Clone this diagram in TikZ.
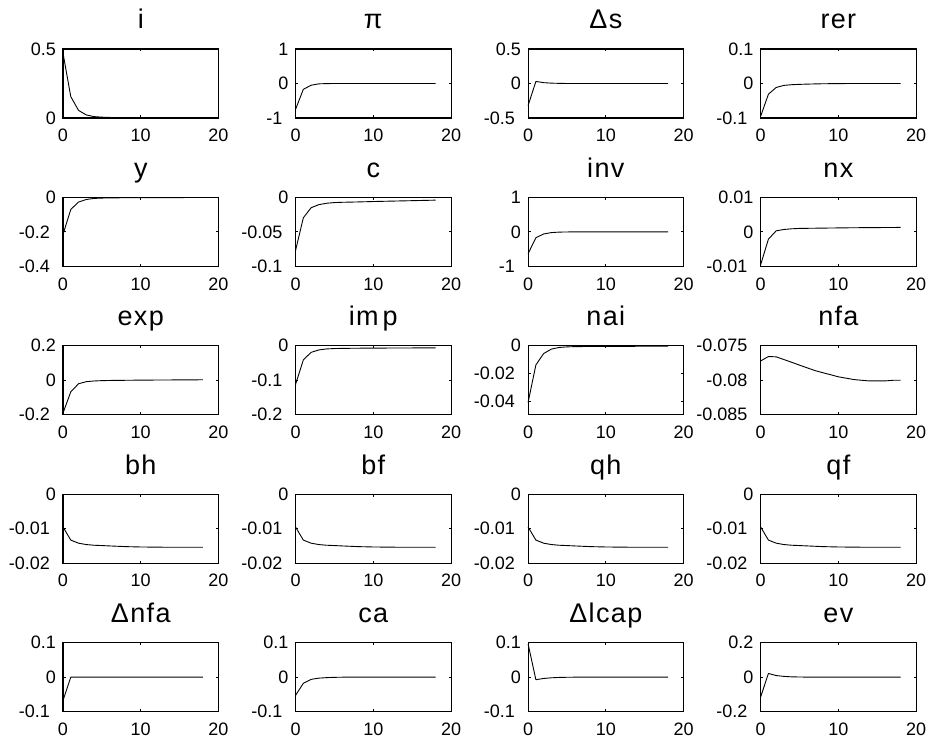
\documentclass[tikz,border=0pt]{standalone}
\usepackage{fontspec}
\setmainfont{Liberation Sans}
\newfontfamily\titlefam[LetterSpace=5]{Liberation Sans}
\newcommand\ticklabfont{\fontsize{18}{20}\selectfont}
\newcommand\paneltitlefont{\titlefam\fontsize{27}{30}\selectfont}
\tikzset{
  axbox/.style={draw=black, line width=1.1pt},
  curve/.style={draw=black, line width=0.9pt, line join=round},
  tickline/.style={line width=0.8pt},
  ticklab/.style={font=\ticklabfont, inner sep=0pt},
  paneltitle/.style={font=\paneltitlefont, inner sep=0pt, anchor=base},
}
% #1 col, #2 row, #3 name, #4 title, #5 ymin, #6 ymax, #7 yticks, #8 data
\newcommand\irfpanel[8]{%
  \pgfmathsetmacro\pxo{63+232.55*#1}%
  \pgfmathsetmacro\pyo{747-49-148.4*#2-69}%
  \pgfmathsetmacro\pyu{69/((#6)-(#5))}%
  \pgfmathsetmacro\pysh{-(#5)*\pyu}%
  \begin{scope}[shift={(\pxo pt,\pyo pt)}]
    \node[paneltitle] (#3-title) at (77.75pt,89pt) {#4};
    \begin{scope}[x=7.775pt, y=\pyu pt, yshift=\pysh pt]
      \draw[curve] plot coordinates {#8};
      \draw[tickline] (10,#5) -- ++(0,2.5pt);
      \draw[tickline] (10,#6) -- ++(0,-2.5pt);
      \foreach \t [count=\k] in {0,10,20}
        \node[ticklab, anchor=base] (#3-x\k) at ([yshift=-23.7pt]\t,#5) {\t};
      \foreach \v [count=\k] in {#7}{
        \draw[tickline] (0,\v) -- ++(2.5pt,0);
        \draw[tickline] (20,\v) -- ++(-2.5pt,0);
        \ifdim\v pt<0pt \def\labgap{13pt}\else\def\labgap{7pt}\fi
        \node[ticklab, anchor=east] (#3-y\k) at ([xshift=-\labgap]0,\v) {\v};
      }
      \draw[axbox] (0,#5) rectangle (20,#6);
    \end{scope}
  \end{scope}
}
\begin{document}
\begin{tikzpicture}[x=1pt,y=1pt]
\useasboundingbox (0,0) rectangle (930,747);
% row 1
\irfpanel{0}{0}{i}{i}{0}{0.5}{0,0.5}{(0,0.47)(1,0.155)(2,0.055)(3,0.022)(4,0.01)(5,0.006)(6,0.004)(7,0.003)(8,0.0025)(9,0.002)(10,0.002)(12,0.0015)(14,0.001)(16,0.0008)(18,0.0005)}
\irfpanel{1}{0}{pi}{π}{-1}{1}{-1,0,1}{(0,-0.75)(1,-0.17)(2,-0.05)(3,-0.01)(4,-0.003)(5,0)(18,0)}
\irfpanel{2}{0}{ds}{Δs}{-0.5}{0.5}{-0.5,0,0.5}{(0,-0.32)(1,0.03)(2,0.012)(3,0.005)(4,0.002)(5,0)(18,0)}
\irfpanel{3}{0}{rer}{rer}{-0.1}{0.1}{-0.1,0,0.1}{(0,-0.095)(1,-0.031)(2,-0.0115)(3,-0.0055)(4,-0.0035)(5,-0.0025)(6,-0.0018)(7,-0.0012)(8,-0.0008)(9,-0.0005)(10,-0.0003)(12,0)(18,0)}
% row 2
\irfpanel{0}{1}{y}{y}{-0.4}{0}{-0.4,-0.2,0}{(0,-0.215)(1,-0.07)(2,-0.027)(3,-0.012)(4,-0.006)(5,-0.004)(6,-0.003)(8,-0.002)(10,-0.0015)(14,-0.001)(18,-0.0008)}
\irfpanel{1}{1}{c}{c}{-0.1}{0}{-0.1,-0.05,0}{(0,-0.077)(1,-0.0296)(2,-0.015)(3,-0.0105)(4,-0.0085)(5,-0.0075)(6,-0.0071)(8,-0.0066)(10,-0.006)(12,-0.0055)(14,-0.005)(16,-0.0045)(18,-0.004)}
\irfpanel{2}{1}{inv}{inv}{-1}{1}{-1,0,1}{(0,-0.63)(1,-0.17)(2,-0.06)(3,-0.02)(4,-0.006)(5,-0.002)(6,0)(18,0)}
\irfpanel{3}{1}{nx}{nx}{-0.01}{0.01}{-0.01,0,0.01}{(0,-0.0095)(1,-0.0021)(2,0.0003)(3,0.0007)(4,0.0009)(5,0.001)(8,0.0011)(12,0.0012)(18,0.0013)}
% row 3
\irfpanel{0}{2}{exp}{exp}{-0.2}{0.2}{-0.2,0,0.2}{(0,-0.19)(1,-0.067)(2,-0.02)(3,-0.008)(4,-0.004)(5,-0.002)(6,-0.001)(8,0)(10,0.001)(14,0.002)(18,0.003)}
\irfpanel{1}{2}{imp}{im\hspace{4pt}p}{-0.2}{0}{-0.2,-0.1,0}{(0,-0.112)(1,-0.041)(2,-0.019)(3,-0.012)(4,-0.009)(5,-0.008)(6,-0.0075)(8,-0.007)(12,-0.0065)(18,-0.006)}
\irfpanel{2}{2}{nai}{nai}{-0.05}{0}{-0.04,-0.02,0}{(0,-0.041)(1,-0.0139)(2,-0.0056)(3,-0.0024)(4,-0.0012)(5,-0.0008)(6,-0.0006)(8,-0.0005)(12,-0.0004)(18,-0.0003)}
\irfpanel{3}{2}{nfa}{nfa}{-0.085}{-0.075}{-0.085,-0.08,-0.075}{(0,-0.0772)(1,-0.07655)(2,-0.0766)(3,-0.0770)(4,-0.0774)(5,-0.0778)(6,-0.0782)(7,-0.0786)(8,-0.0789)(9,-0.0792)(10,-0.0795)(11,-0.0797)(12,-0.0799)(13,-0.0800)(14,-0.0801)(15,-0.0801)(16,-0.0801)(17,-0.0800)(18,-0.0800)}
% row 4
\irfpanel{0}{3}{bh}{bh}{-0.02}{0}{-0.02,-0.01,0}{(0,-0.0095)(1,-0.0133)(2,-0.0142)(3,-0.0146)(4,-0.0148)(5,-0.0149)(6,-0.015)(8,-0.0152)(10,-0.0153)(14,-0.0154)(18,-0.0154)}
\irfpanel{1}{3}{bf}{bf}{-0.02}{0}{-0.02,-0.01,0}{(0,-0.0095)(1,-0.0133)(2,-0.0142)(3,-0.0146)(4,-0.0148)(5,-0.0149)(6,-0.015)(8,-0.0152)(10,-0.0153)(14,-0.0154)(18,-0.0154)}
\irfpanel{2}{3}{qh}{qh}{-0.02}{0}{-0.02,-0.01,0}{(0,-0.0095)(1,-0.0133)(2,-0.0142)(3,-0.0146)(4,-0.0148)(5,-0.0149)(6,-0.015)(8,-0.0152)(10,-0.0153)(14,-0.0154)(18,-0.0154)}
\irfpanel{3}{3}{qf}{qf}{-0.02}{0}{-0.02,-0.01,0}{(0,-0.0095)(1,-0.0133)(2,-0.0142)(3,-0.0146)(4,-0.0148)(5,-0.0149)(6,-0.015)(8,-0.0152)(10,-0.0153)(14,-0.0154)(18,-0.0154)}
% row 5
\irfpanel{0}{4}{dnfa}{Δnfa}{-0.1}{0.1}{-0.1,0,0.1}{(0,-0.068)(1,0)(18,0)}
\irfpanel{1}{4}{ca}{ca}{-0.1}{0.1}{-0.1,0,0.1}{(0,-0.053)(1,-0.018)(2,-0.0066)(3,-0.003)(4,-0.0015)(5,-0.0007)(6,-0.0003)(8,0)(18,0)}
\irfpanel{2}{4}{dlcap}{Δlcap}{-0.1}{0.1}{-0.1,0,0.1}{(0,0.096)(1,-0.0075)(2,-0.004)(3,-0.002)(4,-0.001)(5,-0.0005)(7,0)(18,0)}
\irfpanel{3}{4}{ev}{ev}{-0.2}{0.2}{-0.2,0,0.2}{(0,-0.115)(1,0.021)(2,0.009)(3,0.004)(4,0.0015)(5,0.0005)(6,0)(18,0)}
\end{tikzpicture}
\end{document}
